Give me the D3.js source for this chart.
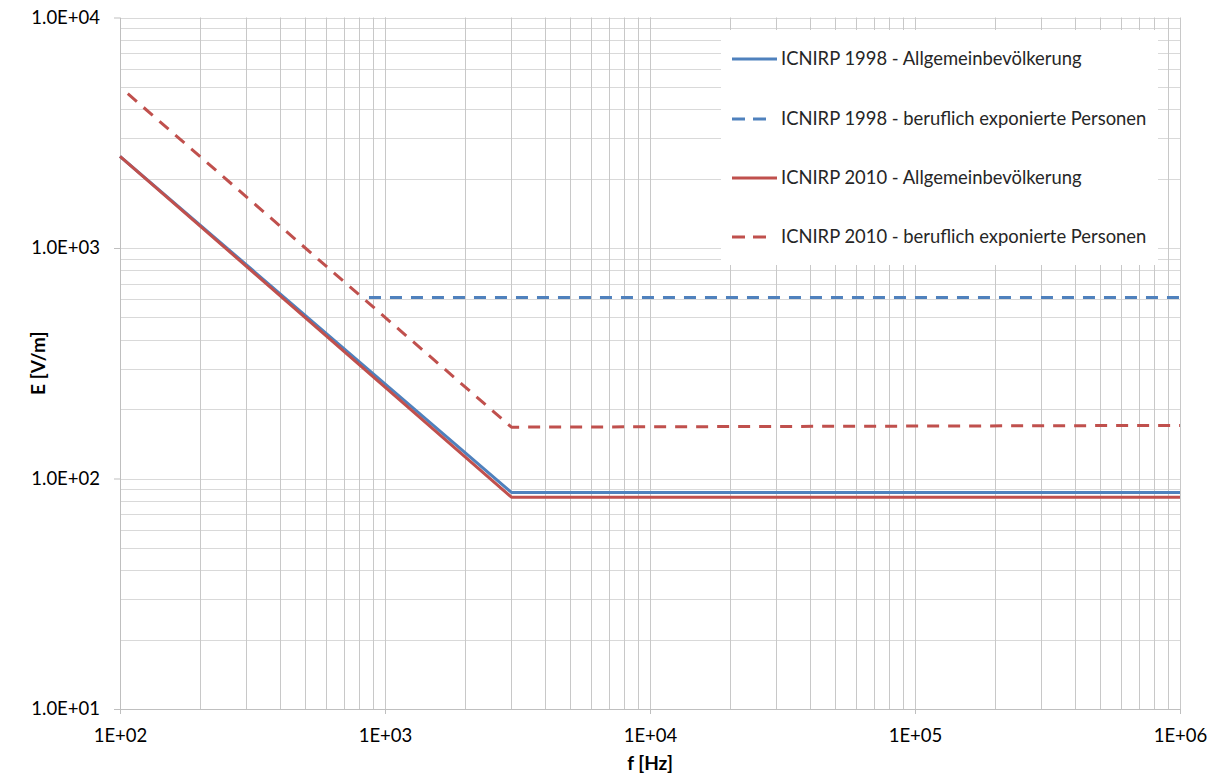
<!DOCTYPE html>
<html><head><meta charset="utf-8">
<script src="https://cdn.jsdelivr.net/npm/d3@7"></script>
<style>
html,body{margin:0;padding:0;background:#fff;}
svg{display:block;font-family:Lato,"Open Sans",sans-serif;}
</style></head><body>
<svg id="chart" width="1216" height="778"></svg>
<script>
// ---- data ----
const seriesNames = [
  "ICNIRP 1998 - Allgemeinbevölkerung",
  "ICNIRP 1998 - beruflich exponierte Personen",
  "ICNIRP 2010 - Allgemeinbevölkerung",
  "ICNIRP 2010 - beruflich exponierte Personen"
];
const icnirp1998General = [[100, 2500], [3000, 87], [1e6, 87]];
const icnirp1998Occupational = [[870, 610], [1e6, 610]];
const icnirp2010General = [[100, 2500], [3000, 83], [1e6, 83]];
const icnirp2010Occupational = [[107, 4670], [3000, 167], [1e6, 170]];
const xTickValues = [1e2, 1e3, 1e4, 1e5, 1e6];
const xTickLabels = ["1E+02", "1E+03", "1E+04", "1E+05", "1E+06"];
const yTickValues = [1e1, 1e2, 1e3, 1e4];
const yTickLabels = ["1.0E+01", "1.0E+02", "1.0E+03", "1.0E+04"];

const series = [
  {name: seriesNames[0], data: icnirp1998General, color: "#4F81BD", dash: null},
  {name: seriesNames[1], data: icnirp1998Occupational, color: "#4F81BD", dash: "12,9"},
  {name: seriesNames[2], data: icnirp2010General, color: "#C0504D", dash: null},
  {name: seriesNames[3], data: icnirp2010Occupational, color: "#C0504D", dash: "12,9"}
];

const W = 1216, H = 778;
const m = {left: 120, top: 17.5, right: 36, bottom: 69};
const svg = d3.select("#chart");
const x = d3.scaleLog().domain([1e2, 1e6]).range([m.left, W - m.right]);
const y = d3.scaleLog().domain([1e1, 1e4]).range([H - m.bottom, m.top]);

// grid lines
const minorX = [], minorY = [];
for (let d = 1e2; d < 1e6; d *= 10) for (let k = 1; k <= 10; k++) minorX.push(d * k);
for (let d = 1e1; d < 1e4; d *= 10) for (let k = 1; k <= 10; k++) minorY.push(d * k);
const g = svg.append("g");
g.selectAll("line.gy").data(minorY).enter().append("line")
  .attr("x1", m.left).attr("x2", W - m.right)
  .attr("y1", d => Math.round(y(d)) + 0.5).attr("y2", d => Math.round(y(d)) + 0.5)
  .attr("stroke", "#d9d9d9").attr("stroke-width", 1);
g.selectAll("line.gx").data(minorX).enter().append("line")
  .attr("y1", m.top).attr("y2", H - m.bottom)
  .attr("x1", d => Math.round(x(d)) + 0.5).attr("x2", d => Math.round(x(d)) + 0.5)
  .attr("stroke", "#c8c8c8").attr("stroke-width", 1);

// axes
const xAxis = d3.axisBottom(x).tickValues(xTickValues)
  .tickFormat((d, i) => xTickLabels[i]).tickSizeInner(5).tickSizeOuter(0).tickPadding(15);
const yAxis = d3.axisLeft(y).tickValues(yTickValues)
  .tickFormat((d, i) => yTickLabels[i]).tickSizeInner(6).tickSizeOuter(0).tickPadding(14);
const gx = svg.append("g").attr("transform", `translate(0,${H - m.bottom})`).call(xAxis);
const gy = svg.append("g").attr("transform", `translate(${m.left},0)`).call(yAxis);
[gx, gy].forEach(a => {
  a.select(".domain").attr("stroke", "#bfbfbf");
  a.selectAll(".tick line").attr("stroke", "#bfbfbf");
  a.selectAll(".tick text").attr("fill", "#000").attr("font-size", 18.5)
    .attr("font-family", "Lato, 'Open Sans', sans-serif");
});

// lines
const line = d3.line().x(d => x(d[0])).y(d => y(d[1]));
const lg = svg.append("g");
series.forEach(s => {
  lg.append("path").datum(s.data).attr("d", line)
    .attr("fill", "none").attr("stroke", s.color).attr("stroke-width", 3)
    .attr("stroke-dasharray", s.dash).attr("stroke-linejoin", "round");
});

// legend
const leg = svg.append("g");
leg.append("rect").attr("x", 721).attr("y", 30).attr("width", 437).attr("height", 235).attr("fill", "#fff");
const legY = [59, 119, 178, 237];
series.forEach((s, i) => {
  leg.append("line").attr("x1", 732).attr("x2", s.dash ? 766 : 777).attr("y1", legY[i]).attr("y2", legY[i])
    .attr("stroke", s.color).attr("stroke-width", 3).attr("stroke-dasharray", s.dash ? "13,8" : null);
  leg.append("text").attr("x", 781).attr("y", legY[i]).attr("dy", "0.35em")
    .attr("font-size", 18.4).attr("fill", "#262626").text(s.name);
});

// axis titles
svg.append("text").attr("x", (m.left + W - m.right) / 2).attr("y", 770)
  .attr("text-anchor", "middle").attr("font-weight", "bold").attr("font-size", 19).text("f [Hz]");
svg.append("text").attr("transform", `translate(45,${(m.top + H - m.bottom) / 2}) rotate(-90)`)
  .attr("text-anchor", "middle").attr("font-weight", "bold").attr("font-size", 19).text("E [V/m]");
</script>
</body></html>
